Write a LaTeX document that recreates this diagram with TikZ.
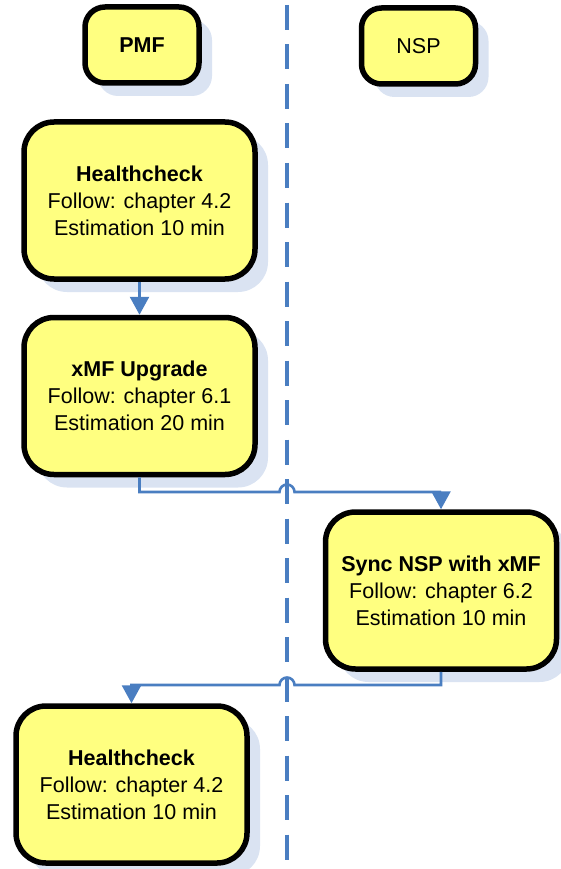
\documentclass[tikz,border=0pt]{standalone}
\usepackage{fontspec}
\setmainfont{Liberation Sans}
\usetikzlibrary{arrows.meta,shadows}

\definecolor{boxfill}{RGB}{255,255,128}
\definecolor{shadowc}{RGB}{218,227,242}
\definecolor{linkblue}{RGB}{74,126,193}

\tikzset{
  boxbase/.style={draw=black, line width=5.5pt, fill=boxfill, align=center,
    inner sep=0pt, text=black,
    drop shadow={shadow xshift=13pt, shadow yshift=-13pt, fill=shadowc, opacity=1},
    font=\fontsize{21.5}{27}\selectfont},
  headbox/.style={boxbase, rounded corners=20pt, minimum width=114pt, minimum height=76pt},
  stepbox/.style={boxbase, rounded corners=30pt, minimum width=231pt, minimum height=157pt},
  lifeline/.style={draw=linkblue, line width=3.3pt, dash pattern=on 25pt off 14.5pt, dash phase=34.5pt},
  link/.style={draw=linkblue, line width=2.6pt, -{Triangle[width=19pt,length=18pt]}}
}

\begin{document}
\begin{tikzpicture}[x=1pt, y=-1pt]
  \useasboundingbox (0,0) rectangle (560,869);

  % swimlane divider
  \coordinate (ltop) at (287,0);
  \coordinate (lbot) at (287,869);
  \draw[lifeline] (ltop) -- (lbot);

  % lane headers
  \node[headbox] (pmf) at (142,45) {\textbf{PMF}};
  \node[headbox] (nsp) at (418.5,46) {NSP};

  % process steps
  \node[stepbox] (hc1) at (139.5,200.5)
    {\textbf{Healthcheck}\\Follow: chapter 4.2\\Estimation 10 min};
  \node[stepbox] (xmf) at (139.5,396)
    {\textbf{xMF Upgrade}\\Follow: chapter 6.1\\Estimation 20 min};
  \node[stepbox] (sync) at (441,590.5)
    {\textbf{Sync NSP with xMF}\\Follow: chapter 6.2\\Estimation 10 min};
  \node[stepbox] (hc2) at (131.5,784.5)
    {\textbf{Healthcheck}\\Follow: chapter 4.2\\Estimation 10 min};

  % hop points where links cross the divider
  \coordinate (hop1) at (287,492);
  \coordinate (hop2) at (287,685);

  % links
  \draw[link] (hc1.south) -- (xmf.north);
  \draw[link] (xmf.south) |- ([xshift=-7.5pt]hop1)
    arc[start angle=180, end angle=0, radius=7.5pt]
    -- (hop1 -| sync.north) -- (sync.north);
  \draw[link] (sync.south) |- ([xshift=7.5pt]hop2)
    arc[start angle=0, end angle=180, radius=7.5pt]
    -- (hop2 -| hc2.north) -- (hc2.north);
\end{tikzpicture}
\end{document}
